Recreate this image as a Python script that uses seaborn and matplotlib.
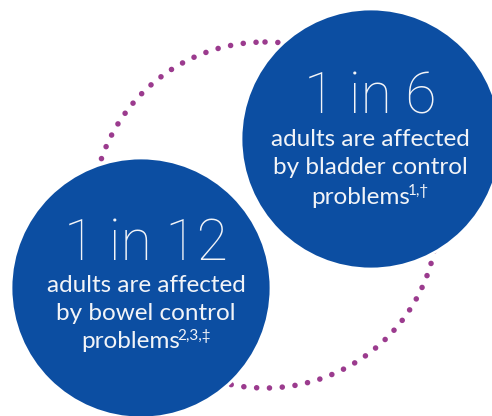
import matplotlib
matplotlib.use("Agg")
import matplotlib.pyplot as plt
import seaborn as sns
from matplotlib.patches import Circle

# content
stats = ["1 in 6", "1 in 12"]
line1 = ["adults are affected", "adults are affected"]
line2 = ["by bladder control", "by bowel control"]
line3 = ["problems", "problems"]
refs = ["1,\u2020", "2,3,\u2021"]

BLUE = "#0c4ea2"
PURPLE = "#9b3b8e"
TXT = "#f2f4f8"

sns.set_theme(style="white")
plt.rcParams['font.family'] = ['Lato', 'DejaVu Sans']

fig = plt.figure(figsize=(4.92, 4.16), dpi=100)
ax = fig.add_axes([0, 0, 1, 1])
ax.set_xlim(0, 492)
ax.set_ylim(416, 0)
ax.set_aspect('equal')
ax.axis('off')

# dotted ring behind the two discs
ring = Circle((265, 215), 173, fill=False, edgecolor=PURPLE, linewidth=4.0,
              linestyle=(0, (0.01, 2.3)), zorder=1)
ring.set_capstyle('round')
ax.add_patch(ring)

# discs: (cx, cy, r)
discs = [(371, 139, 130), (141, 288, 130)]
for cx, cy, r in discs:
    ax.add_patch(Circle((cx, cy), r, facecolor=BLUE, edgecolor='white',
                        linewidth=2, zorder=2))

# text layout per disc: (x centre, y of big number, y of first small line)
layout = [(370, 98, 140), (146, 244, 285)]
fig.canvas.draw()
renderer = fig.canvas.get_renderer()
for i, (x, ybig, y0) in enumerate(layout):
    ax.text(x, ybig, stats[i], color=TXT, fontsize=41, fontweight='light',
            family=['Roboto', 'DejaVu Sans'],
            ha='center', va='center', zorder=3)
    ax.text(x, y0, line1[i], color=TXT, fontsize=17.5, ha='center',
            va='center', zorder=3)
    ax.text(x, y0 + 28, line2[i], color=TXT, fontsize=17.5, ha='center',
            va='center', zorder=3)
    # last line with superscript references, centred as a whole
    t = ax.text(0, y0 + 57, line3[i], color=TXT, fontsize=17.5, ha='left',
                va='center', zorder=3)
    s = ax.text(0, y0 + 51, refs[i], color=TXT, fontsize=11, ha='left',
                va='center', zorder=3)
    wt = t.get_window_extent(renderer).width
    ws = s.get_window_extent(renderer).width
    start = x - (wt + ws - 2) / 2
    t.set_x(start)
    s.set_x(start + wt - 2)

fig.savefig("out.png", dpi=100, facecolor='white')
